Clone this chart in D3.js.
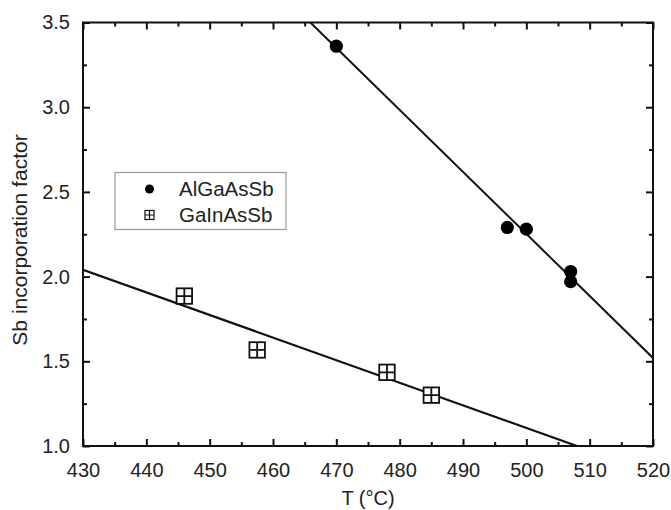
<!DOCTYPE html>
<html>
<head>
<meta charset="utf-8">
<script src="https://cdn.jsdelivr.net/npm/d3@7"></script>
<style>
  body { margin: 0; background: #fff; }
  svg { font-family: "Liberation Sans", Arial, sans-serif; }
</style>
</head>
<body>
<div id="chart"></div>
<script>
// AlGaAsSb measurements
var algaTemp = [470, 497, 500, 507, 507];
var algaSb   = [3.36, 2.29, 2.28, 2.03, 1.97];
// GaInAsSb measurements
var gainTemp = [446, 457.5, 478, 485];
var gainSb   = [1.885, 1.567, 1.435, 1.30];
// linear fits (end points)
var algaFitTemp = [465.9, 520];
var algaFitSb   = [3.5, 1.52];
var gainFitTemp = [430, 508];
var gainFitSb   = [2.04, 1.0];

var xTicks = [430, 440, 450, 460, 470, 480, 490, 500, 510, 520];
var yTicks = [1.0, 1.5, 2.0, 2.5, 3.0, 3.5];
var seriesNames = ["AlGaAsSb", "GaInAsSb"];

var width = 671, height = 510;
var margin = {top: 22.5, right: 18, bottom: 64, left: 83};
var innerW = width - margin.left - margin.right;
var innerH = height - margin.top - margin.bottom;

var svg = d3.select("#chart").append("svg")
    .attr("width", width)
    .attr("height", height);

var x = d3.scaleLinear().domain([430, 520]).range([0, innerW]);
var y = d3.scaleLinear().domain([1.0, 3.5]).range([innerH, 0]);

var g = svg.append("g")
    .attr("transform", "translate(" + margin.left + "," + margin.top + ")");

g.append("clipPath").attr("id", "clip")
    .append("rect").attr("width", innerW).attr("height", innerH);

//minor ticks
var xMinor = d3.range(435, 520, 10);
var yMinor = d3.range(1.25, 3.5, 0.5);

function styleAxis(sel) {
    sel.select(".domain").remove();
    sel.selectAll(".tick line").attr("stroke", "#111").attr("stroke-width", 2);
    sel.selectAll(".tick text").attr("fill", "#222").style("font-size", "20px");
}

// bottom
g.append("g").attr("transform", "translate(0," + innerH + ")")
    .call(d3.axisBottom(x).tickValues(xTicks).tickSize(-7).tickPadding(17).tickFormat(d3.format("d")))
    .call(styleAxis);
g.append("g").attr("transform", "translate(0," + innerH + ")")
    .call(d3.axisBottom(x).tickValues(xMinor).tickSize(-4).tickFormat(""))
    .call(styleAxis);
// top
g.append("g")
    .call(d3.axisTop(x).tickValues(xTicks).tickSize(-7).tickFormat(""))
    .call(styleAxis);
g.append("g")
    .call(d3.axisTop(x).tickValues(xMinor).tickSize(-4).tickFormat(""))
    .call(styleAxis);
// left
g.append("g")
    .call(d3.axisLeft(y).tickValues(yTicks).tickSize(-7).tickPadding(13).tickFormat(d3.format(".1f")))
    .call(styleAxis);
g.append("g")
    .call(d3.axisLeft(y).tickValues(yMinor).tickSize(-4).tickFormat(""))
    .call(styleAxis);
// right
g.append("g").attr("transform", "translate(" + innerW + ",0)")
    .call(d3.axisRight(y).tickValues(yTicks).tickSize(-7).tickFormat(""))
    .call(styleAxis);
g.append("g").attr("transform", "translate(" + innerW + ",0)")
    .call(d3.axisRight(y).tickValues(yMinor).tickSize(-4).tickFormat(""))
    .call(styleAxis);

// frame
g.append("rect")
    .attr("width", innerW).attr("height", innerH)
    .attr("fill", "none").attr("stroke", "#111").attr("stroke-width", 2);

// fit lines
var line = d3.line()
    .x(function(d) { return x(d[0]); })
    .y(function(d) { return y(d[1]); });

var lines = g.append("g").attr("clip-path", "url(#clip)");
lines.append("path")
    .attr("d", line(d3.zip(algaFitTemp, algaFitSb)))
    .attr("fill", "none").attr("stroke", "#111").attr("stroke-width", 2);
lines.append("path")
    .attr("d", line(d3.zip(gainFitTemp, gainFitSb)))
    .attr("fill", "none").attr("stroke", "#111").attr("stroke-width", 2.2);

// square with cross marker
function crossSquare(sel, s) {
    var h = s / 2;
    var sw = s > 10 ? 1.8 : 1.2;
    sel.append("rect")
        .attr("x", -h).attr("y", -h).attr("width", s).attr("height", s)
        .attr("fill", "#fff").attr("stroke", "#111").attr("stroke-width", sw);
    sel.append("path")
        .attr("d", "M" + (-h) + ",0H" + h + "M0," + (-h) + "V" + h)
        .attr("stroke", "#111").attr("stroke-width", sw);
}

// AlGaAsSb points
g.append("g").selectAll("circle")
    .data(d3.zip(algaTemp, algaSb))
    .join("circle")
    .attr("cx", function(d) { return x(d[0]); })
    .attr("cy", function(d) { return y(d[1]); })
    .attr("r", 6.6)
    .attr("fill", "#000");

// GaInAsSb points
g.append("g").selectAll("g")
    .data(d3.zip(gainTemp, gainSb))
    .join("g")
    .attr("transform", function(d) { return "translate(" + x(d[0]) + "," + y(d[1]) + ")"; })
    .each(function() { crossSquare(d3.select(this), 15.5); });

// legend
var legend = svg.append("g").attr("transform", "translate(115,172.5)");
legend.append("rect")
    .attr("width", 171).attr("height", 57)
    .attr("fill", "#fff").attr("stroke", "#999").attr("stroke-width", 1.2);
legend.append("circle").attr("cx", 34.5).attr("cy", 16.5).attr("r", 4.5).attr("fill", "#000");
crossSquare(legend.append("g").attr("transform", "translate(34.5,42.5)"), 9);
legend.selectAll("text")
    .data(seriesNames)
    .join("text")
    .attr("x", 64)
    .attr("y", function(d, i) { return 16.5 + i * 26; })
    .attr("dy", "0.36em")
    .attr("fill", "#222")
    .style("font-size", "20.5px")
    .text(function(d) { return d; });

// axis titles
svg.append("text")
    .attr("x", margin.left + innerW / 2)
    .attr("y", 504.5)
    .attr("text-anchor", "middle")
    .attr("fill", "#222")
    .style("font-size", "20px")
    .text("T (\u00B0C)");

svg.append("text")
    .attr("transform", "translate(27,240) rotate(-90)")
    .attr("text-anchor", "middle")
    .attr("fill", "#222")
    .style("font-size", "21px")
    .text("Sb incorporation factor");
</script>
</body>
</html>
